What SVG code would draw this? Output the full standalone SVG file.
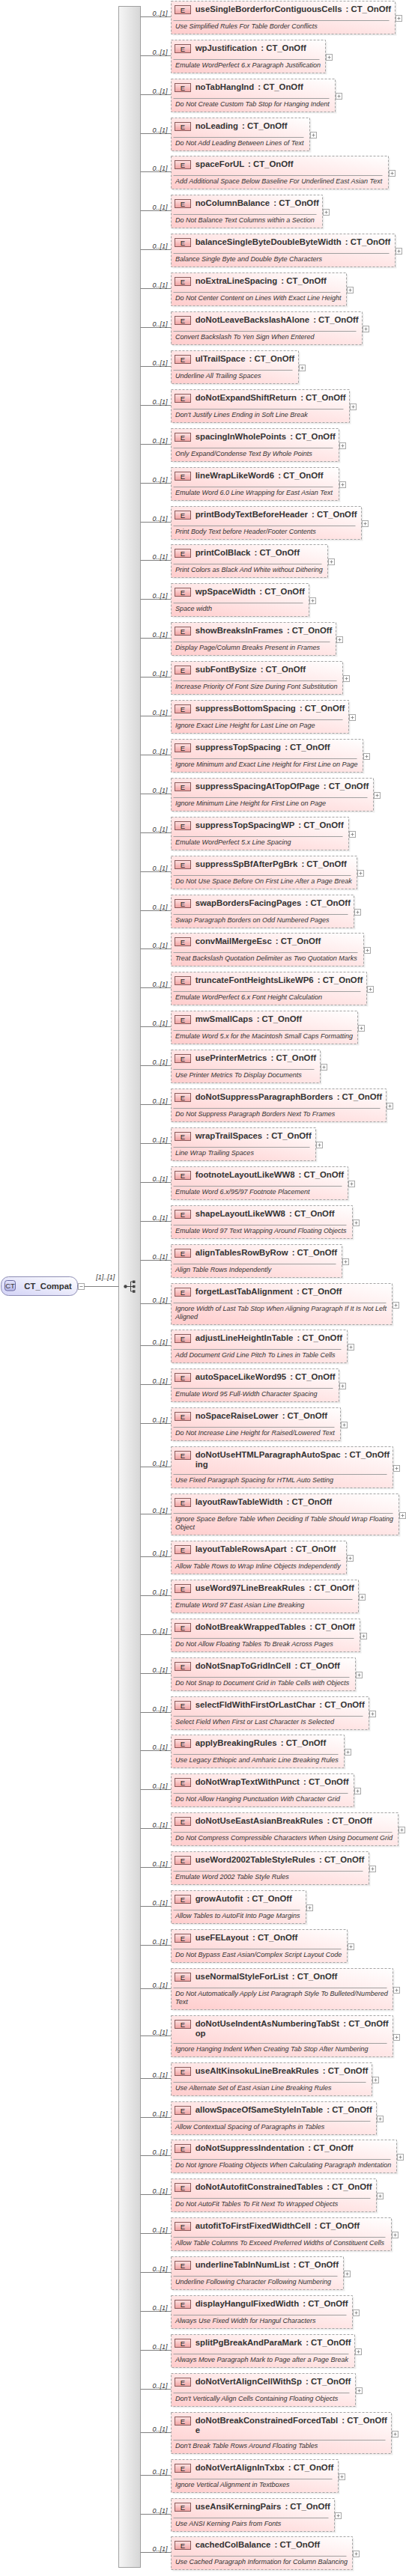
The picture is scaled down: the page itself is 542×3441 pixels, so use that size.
<svg xmlns="http://www.w3.org/2000/svg" xmlns:xlink="http://www.w3.org/1999/xlink" width="542" height="3441" viewBox="0 0 542 3441">
<style>
.box{fill:url(#gb);stroke:#a4a4a4;stroke-dasharray:3,2}
.sh{fill:#000;fill-opacity:.07}
.bd{fill:url(#ge);stroke:#8a5a5a}
.e{font:9.5px 'Liberation Sans',Arial,sans-serif;fill:#222;text-anchor:middle}
.t{font:bold 11.33px 'Liberation Sans',Arial,sans-serif;fill:#333}
.d{font:italic 9px 'Liberation Sans',Arial,sans-serif;fill:#333}
.m{font:italic 9px 'Liberation Sans',Arial,sans-serif;fill:#333}
.sep{stroke:#a0a0a0}
.cn{stroke:#808080;fill:none}
</style>
<defs>
<linearGradient id="gb" x1="0" y1="1" x2="1" y2="0"><stop offset="0" stop-color="#ffcccc"/><stop offset="1" stop-color="#ffffff"/></linearGradient>
<linearGradient id="ge" x1="0" y1="0" x2="0" y2="1"><stop offset="0" stop-color="#ffe2e2"/><stop offset="1" stop-color="#f0a2a2"/></linearGradient>
<linearGradient id="gct" x1="0" y1="1" x2="1" y2="0"><stop offset="0" stop-color="#d2d2f6"/><stop offset="1" stop-color="#ffffff"/></linearGradient>
<linearGradient id="gctb" x1="0" y1="0" x2="0" y2="1"><stop offset="0" stop-color="#e4e4fb"/><stop offset="1" stop-color="#b8b8e8"/></linearGradient>
<linearGradient id="gbar" x1="0" y1="0" x2="1" y2="0"><stop offset="0" stop-color="#f6f6f6"/><stop offset="1" stop-color="#d6d6d6"/></linearGradient>
<g id="plus"><rect x="0.5" y="19.5" width="8" height="8" fill="#fff" stroke="#a8a8a8"/><path d="M2.5 23.5h4M4.5 21.5v4" stroke="#909090"/></g>
</defs>
<rect width="542" height="3441" fill="#fff"/>

<g id="n-CT_Compat">
<rect x="1.5" y="1705.5" width="102" height="25" rx="10" fill="url(#gct)" stroke="#8c8cb4"/>
<rect x="6.5" y="1710.5" width="14" height="13.5" rx="3" fill="url(#gctb)" stroke="#6a6aa0"/>
<text x="13.5" y="1721" style="font:9.5px 'Liberation Sans',Arial,sans-serif;fill:#333;text-anchor:middle">CT</text>
<text class="t" x="32.3" y="1721.5">CT_Compat</text>
<rect x="104.5" y="1714.5" width="8" height="8" fill="#fff" stroke="#a8a8a8"/>
<path d="M106.5 1718.5h4" stroke="#909090"/>
</g>

<g id="sequence">
<rect x="158.5" y="8.5" width="29" height="3421" fill="url(#gbar)" stroke="#a0a0a0"/>
<circle cx="167.5" cy="1718.5" r="2.2" fill="#444"/>
<path d="M167.5 1718.5h7M174.5 1712v13M174.5 1712h3M174.5 1718.5h3M174.5 1725h3" stroke="#444" fill="none"/>
<rect x="177" y="1710.5" width="3.5" height="3.5" fill="#444"/>
<rect x="177" y="1716.8" width="3.5" height="3.5" fill="#444"/>
<rect x="177" y="1723.3" width="3.5" height="3.5" fill="#444"/>
</g>

<g id="connectors">
<line class="cn" x1="112.5" y1="1718.5" x2="158.5" y2="1718.5"/>
<text class="m" x="128.3" y="1708.5">[1]..[1]</text>
<line class="cn" x1="187.5" y1="22.5" x2="228.5" y2="22.5"/><text class="m" x="203.5" y="20.5">0..[1]</text>
<line class="cn" x1="187.5" y1="74.5" x2="228.5" y2="74.5"/><text class="m" x="203.5" y="72.5">0..[1]</text>
<line class="cn" x1="187.5" y1="126.5" x2="228.5" y2="126.5"/><text class="m" x="203.5" y="124.5">0..[1]</text>
<line class="cn" x1="187.5" y1="178.5" x2="228.5" y2="178.5"/><text class="m" x="203.5" y="176.5">0..[1]</text>
<line class="cn" x1="187.5" y1="229.5" x2="228.5" y2="229.5"/><text class="m" x="203.5" y="227.5">0..[1]</text>
<line class="cn" x1="187.5" y1="281.5" x2="228.5" y2="281.5"/><text class="m" x="203.5" y="279.5">0..[1]</text>
<line class="cn" x1="187.5" y1="333.5" x2="228.5" y2="333.5"/><text class="m" x="203.5" y="331.5">0..[1]</text>
<line class="cn" x1="187.5" y1="385.5" x2="228.5" y2="385.5"/><text class="m" x="203.5" y="383.5">0..[1]</text>
<line class="cn" x1="187.5" y1="437.5" x2="228.5" y2="437.5"/><text class="m" x="203.5" y="435.5">0..[1]</text>
<line class="cn" x1="187.5" y1="489.5" x2="228.5" y2="489.5"/><text class="m" x="203.5" y="487.5">0..[1]</text>
<line class="cn" x1="187.5" y1="541.5" x2="228.5" y2="541.5"/><text class="m" x="203.5" y="539.5">0..[1]</text>
<line class="cn" x1="187.5" y1="593.5" x2="228.5" y2="593.5"/><text class="m" x="203.5" y="591.5">0..[1]</text>
<line class="cn" x1="187.5" y1="645.5" x2="228.5" y2="645.5"/><text class="m" x="203.5" y="643.5">0..[1]</text>
<line class="cn" x1="187.5" y1="697.5" x2="228.5" y2="697.5"/><text class="m" x="203.5" y="695.5">0..[1]</text>
<line class="cn" x1="187.5" y1="748.5" x2="228.5" y2="748.5"/><text class="m" x="203.5" y="746.5">0..[1]</text>
<line class="cn" x1="187.5" y1="800.5" x2="228.5" y2="800.5"/><text class="m" x="203.5" y="798.5">0..[1]</text>
<line class="cn" x1="187.5" y1="852.5" x2="228.5" y2="852.5"/><text class="m" x="203.5" y="850.5">0..[1]</text>
<line class="cn" x1="187.5" y1="904.5" x2="228.5" y2="904.5"/><text class="m" x="203.5" y="902.5">0..[1]</text>
<line class="cn" x1="187.5" y1="956.5" x2="228.5" y2="956.5"/><text class="m" x="203.5" y="954.5">0..[1]</text>
<line class="cn" x1="187.5" y1="1008.5" x2="228.5" y2="1008.5"/><text class="m" x="203.5" y="1006.5">0..[1]</text>
<line class="cn" x1="187.5" y1="1060.5" x2="228.5" y2="1060.5"/><text class="m" x="203.5" y="1058.5">0..[1]</text>
<line class="cn" x1="187.5" y1="1112.5" x2="228.5" y2="1112.5"/><text class="m" x="203.5" y="1110.5">0..[1]</text>
<line class="cn" x1="187.5" y1="1164.5" x2="228.5" y2="1164.5"/><text class="m" x="203.5" y="1162.5">0..[1]</text>
<line class="cn" x1="187.5" y1="1216.5" x2="228.5" y2="1216.5"/><text class="m" x="203.5" y="1214.5">0..[1]</text>
<line class="cn" x1="187.5" y1="1267.5" x2="228.5" y2="1267.5"/><text class="m" x="203.5" y="1265.5">0..[1]</text>
<line class="cn" x1="187.5" y1="1319.5" x2="228.5" y2="1319.5"/><text class="m" x="203.5" y="1317.5">0..[1]</text>
<line class="cn" x1="187.5" y1="1371.5" x2="228.5" y2="1371.5"/><text class="m" x="203.5" y="1369.5">0..[1]</text>
<line class="cn" x1="187.5" y1="1423.5" x2="228.5" y2="1423.5"/><text class="m" x="203.5" y="1421.5">0..[1]</text>
<line class="cn" x1="187.5" y1="1475.5" x2="228.5" y2="1475.5"/><text class="m" x="203.5" y="1473.5">0..[1]</text>
<line class="cn" x1="187.5" y1="1527.5" x2="228.5" y2="1527.5"/><text class="m" x="203.5" y="1525.5">0..[1]</text>
<line class="cn" x1="187.5" y1="1579.5" x2="228.5" y2="1579.5"/><text class="m" x="203.5" y="1577.5">0..[1]</text>
<line class="cn" x1="187.5" y1="1631.5" x2="228.5" y2="1631.5"/><text class="m" x="203.5" y="1629.5">0..[1]</text>
<line class="cn" x1="187.5" y1="1683.5" x2="228.5" y2="1683.5"/><text class="m" x="203.5" y="1681.5">0..[1]</text>
<line class="cn" x1="187.5" y1="1741.5" x2="228.5" y2="1741.5"/><text class="m" x="203.5" y="1739.5">0..[1]</text>
<line class="cn" x1="187.5" y1="1797.5" x2="228.5" y2="1797.5"/><text class="m" x="203.5" y="1795.5">0..[1]</text>
<line class="cn" x1="187.5" y1="1849.5" x2="228.5" y2="1849.5"/><text class="m" x="203.5" y="1847.5">0..[1]</text>
<line class="cn" x1="187.5" y1="1901.5" x2="228.5" y2="1901.5"/><text class="m" x="203.5" y="1899.5">0..[1]</text>
<line class="cn" x1="187.5" y1="1959.5" x2="228.5" y2="1959.5"/><text class="m" x="203.5" y="1957.5">0..[1]</text>
<line class="cn" x1="187.5" y1="2022.5" x2="228.5" y2="2022.5"/><text class="m" x="203.5" y="2020.5">0..[1]</text>
<line class="cn" x1="187.5" y1="2079.5" x2="228.5" y2="2079.5"/><text class="m" x="203.5" y="2077.5">0..[1]</text>
<line class="cn" x1="187.5" y1="2131.5" x2="228.5" y2="2131.5"/><text class="m" x="203.5" y="2129.5">0..[1]</text>
<line class="cn" x1="187.5" y1="2183.5" x2="228.5" y2="2183.5"/><text class="m" x="203.5" y="2181.5">0..[1]</text>
<line class="cn" x1="187.5" y1="2235.5" x2="228.5" y2="2235.5"/><text class="m" x="203.5" y="2233.5">0..[1]</text>
<line class="cn" x1="187.5" y1="2287.5" x2="228.5" y2="2287.5"/><text class="m" x="203.5" y="2285.5">0..[1]</text>
<line class="cn" x1="187.5" y1="2338.5" x2="228.5" y2="2338.5"/><text class="m" x="203.5" y="2336.5">0..[1]</text>
<line class="cn" x1="187.5" y1="2390.5" x2="228.5" y2="2390.5"/><text class="m" x="203.5" y="2388.5">0..[1]</text>
<line class="cn" x1="187.5" y1="2442.5" x2="228.5" y2="2442.5"/><text class="m" x="203.5" y="2440.5">0..[1]</text>
<line class="cn" x1="187.5" y1="2494.5" x2="228.5" y2="2494.5"/><text class="m" x="203.5" y="2492.5">0..[1]</text>
<line class="cn" x1="187.5" y1="2546.5" x2="228.5" y2="2546.5"/><text class="m" x="203.5" y="2544.5">0..[1]</text>
<line class="cn" x1="187.5" y1="2598.5" x2="228.5" y2="2598.5"/><text class="m" x="203.5" y="2596.5">0..[1]</text>
<line class="cn" x1="187.5" y1="2656.5" x2="228.5" y2="2656.5"/><text class="m" x="203.5" y="2654.5">0..[1]</text>
<line class="cn" x1="187.5" y1="2719.5" x2="228.5" y2="2719.5"/><text class="m" x="203.5" y="2717.5">0..[1]</text>
<line class="cn" x1="187.5" y1="2776.5" x2="228.5" y2="2776.5"/><text class="m" x="203.5" y="2774.5">0..[1]</text>
<line class="cn" x1="187.5" y1="2828.5" x2="228.5" y2="2828.5"/><text class="m" x="203.5" y="2826.5">0..[1]</text>
<line class="cn" x1="187.5" y1="2879.5" x2="228.5" y2="2879.5"/><text class="m" x="203.5" y="2877.5">0..[1]</text>
<line class="cn" x1="187.5" y1="2931.5" x2="228.5" y2="2931.5"/><text class="m" x="203.5" y="2929.5">0..[1]</text>
<line class="cn" x1="187.5" y1="2983.5" x2="228.5" y2="2983.5"/><text class="m" x="203.5" y="2981.5">0..[1]</text>
<line class="cn" x1="187.5" y1="3035.5" x2="228.5" y2="3035.5"/><text class="m" x="203.5" y="3033.5">0..[1]</text>
<line class="cn" x1="187.5" y1="3087.5" x2="228.5" y2="3087.5"/><text class="m" x="203.5" y="3085.5">0..[1]</text>
<line class="cn" x1="187.5" y1="3139.5" x2="228.5" y2="3139.5"/><text class="m" x="203.5" y="3137.5">0..[1]</text>
<line class="cn" x1="187.5" y1="3191.5" x2="228.5" y2="3191.5"/><text class="m" x="203.5" y="3189.5">0..[1]</text>
<line class="cn" x1="187.5" y1="3249.5" x2="228.5" y2="3249.5"/><text class="m" x="203.5" y="3247.5">0..[1]</text>
<line class="cn" x1="187.5" y1="3306.5" x2="228.5" y2="3306.5"/><text class="m" x="203.5" y="3304.5">0..[1]</text>
<line class="cn" x1="187.5" y1="3358.5" x2="228.5" y2="3358.5"/><text class="m" x="203.5" y="3356.5">0..[1]</text>
<line class="cn" x1="187.5" y1="3409.5" x2="228.5" y2="3409.5"/><text class="m" x="203.5" y="3407.5">0..[1]</text>
</g>

<g id="n-useSingleBorderforContiguousCells" transform="translate(0,1)"><rect class="sh" x="230.5" y="2.5" width="299" height="44"/><rect class="box" x="228.5" y="0.5" width="299" height="44"/><rect class="bd" x="233.5" y="6.5" width="21" height="11"/><text class="e" x="244" y="15.5">E</text><text class="t" x="260.7" y="15">useSingleBorderforContiguousCells<tspan dx="2"> : CT_OnOff</tspan></text><line class="sep" x1="231.5" y1="26.5" x2="519.5" y2="26.5"/><text class="d" x="234" y="37">Use Simplified Rules For Table Border Conflicts</text><use href="#plus" x="528"/></g>
<g id="n-wpJustification" transform="translate(0,53)"><rect class="sh" x="230.5" y="2.5" width="206" height="44"/><rect class="box" x="228.5" y="0.5" width="206" height="44"/><rect class="bd" x="233.5" y="6.5" width="21" height="11"/><text class="e" x="244" y="15.5">E</text><text class="t" x="260.7" y="15">wpJustification<tspan dx="2"> : CT_OnOff</tspan></text><line class="sep" x1="231.5" y1="26.5" x2="426.5" y2="26.5"/><text class="d" x="234" y="37">Emulate WordPerfect 6.x Paragraph Justification</text><use href="#plus" x="435"/></g>
<g id="n-noTabHangInd" transform="translate(0,105)"><rect class="sh" x="230.5" y="2.5" width="219" height="44"/><rect class="box" x="228.5" y="0.5" width="219" height="44"/><rect class="bd" x="233.5" y="6.5" width="21" height="11"/><text class="e" x="244" y="15.5">E</text><text class="t" x="260.7" y="15">noTabHangInd<tspan dx="2"> : CT_OnOff</tspan></text><line class="sep" x1="231.5" y1="26.5" x2="439.5" y2="26.5"/><text class="d" x="234" y="37">Do Not Create Custom Tab Stop for Hanging Indent</text><use href="#plus" x="448"/></g>
<g id="n-noLeading" transform="translate(0,157)"><rect class="sh" x="230.5" y="2.5" width="185" height="44"/><rect class="box" x="228.5" y="0.5" width="185" height="44"/><rect class="bd" x="233.5" y="6.5" width="21" height="11"/><text class="e" x="244" y="15.5">E</text><text class="t" x="260.7" y="15">noLeading<tspan dx="2"> : CT_OnOff</tspan></text><line class="sep" x1="231.5" y1="26.5" x2="405.5" y2="26.5"/><text class="d" x="234" y="37">Do Not Add Leading Between Lines of Text</text><use href="#plus" x="414"/></g>
<g id="n-spaceForUL" transform="translate(0,208)"><rect class="sh" x="230.5" y="2.5" width="290" height="44"/><rect class="box" x="228.5" y="0.5" width="290" height="44"/><rect class="bd" x="233.5" y="6.5" width="21" height="11"/><text class="e" x="244" y="15.5">E</text><text class="t" x="260.7" y="15">spaceForUL<tspan dx="2"> : CT_OnOff</tspan></text><line class="sep" x1="231.5" y1="26.5" x2="510.5" y2="26.5"/><text class="d" x="234" y="37">Add Additional Space Below Baseline For Underlined East Asian Text</text><use href="#plus" x="519"/></g>
<g id="n-noColumnBalance" transform="translate(0,260)"><rect class="sh" x="230.5" y="2.5" width="202" height="44"/><rect class="box" x="228.5" y="0.5" width="202" height="44"/><rect class="bd" x="233.5" y="6.5" width="21" height="11"/><text class="e" x="244" y="15.5">E</text><text class="t" x="260.7" y="15">noColumnBalance<tspan dx="2"> : CT_OnOff</tspan></text><line class="sep" x1="231.5" y1="26.5" x2="422.5" y2="26.5"/><text class="d" x="234" y="37">Do Not Balance Text Columns within a Section</text><use href="#plus" x="431"/></g>
<g id="n-balanceSingleByteDoubleByteWidth" transform="translate(0,312)"><rect class="sh" x="230.5" y="2.5" width="299" height="44"/><rect class="box" x="228.5" y="0.5" width="299" height="44"/><rect class="bd" x="233.5" y="6.5" width="21" height="11"/><text class="e" x="244" y="15.5">E</text><text class="t" x="260.7" y="15">balanceSingleByteDoubleByteWidth<tspan dx="2"> : CT_OnOff</tspan></text><line class="sep" x1="231.5" y1="26.5" x2="519.5" y2="26.5"/><text class="d" x="234" y="37">Balance Single Byte and Double Byte Characters</text><use href="#plus" x="528"/></g>
<g id="n-noExtraLineSpacing" transform="translate(0,364)"><rect class="sh" x="230.5" y="2.5" width="234" height="44"/><rect class="box" x="228.5" y="0.5" width="234" height="44"/><rect class="bd" x="233.5" y="6.5" width="21" height="11"/><text class="e" x="244" y="15.5">E</text><text class="t" x="260.7" y="15">noExtraLineSpacing<tspan dx="2"> : CT_OnOff</tspan></text><line class="sep" x1="231.5" y1="26.5" x2="454.5" y2="26.5"/><text class="d" x="234" y="37">Do Not Center Content on Lines With Exact Line Height</text><use href="#plus" x="463"/></g>
<g id="n-doNotLeaveBackslashAlone" transform="translate(0,416)"><rect class="sh" x="230.5" y="2.5" width="255" height="44"/><rect class="box" x="228.5" y="0.5" width="255" height="44"/><rect class="bd" x="233.5" y="6.5" width="21" height="11"/><text class="e" x="244" y="15.5">E</text><text class="t" x="260.7" y="15">doNotLeaveBackslashAlone<tspan dx="2"> : CT_OnOff</tspan></text><line class="sep" x1="231.5" y1="26.5" x2="475.5" y2="26.5"/><text class="d" x="234" y="37">Convert Backslash To Yen Sign When Entered</text><use href="#plus" x="484"/></g>
<g id="n-ulTrailSpace" transform="translate(0,468)"><rect class="sh" x="230.5" y="2.5" width="170" height="44"/><rect class="box" x="228.5" y="0.5" width="170" height="44"/><rect class="bd" x="233.5" y="6.5" width="21" height="11"/><text class="e" x="244" y="15.5">E</text><text class="t" x="260.7" y="15">ulTrailSpace<tspan dx="2"> : CT_OnOff</tspan></text><line class="sep" x1="231.5" y1="26.5" x2="390.5" y2="26.5"/><text class="d" x="234" y="37">Underline All Trailing Spaces</text><use href="#plus" x="399"/></g>
<g id="n-doNotExpandShiftReturn" transform="translate(0,520)"><rect class="sh" x="230.5" y="2.5" width="238" height="44"/><rect class="box" x="228.5" y="0.5" width="238" height="44"/><rect class="bd" x="233.5" y="6.5" width="21" height="11"/><text class="e" x="244" y="15.5">E</text><text class="t" x="260.7" y="15">doNotExpandShiftReturn<tspan dx="2"> : CT_OnOff</tspan></text><line class="sep" x1="231.5" y1="26.5" x2="458.5" y2="26.5"/><text class="d" x="234" y="37">Don't Justify Lines Ending in Soft Line Break</text><use href="#plus" x="467"/></g>
<g id="n-spacingInWholePoints" transform="translate(0,572)"><rect class="sh" x="230.5" y="2.5" width="224" height="44"/><rect class="box" x="228.5" y="0.5" width="224" height="44"/><rect class="bd" x="233.5" y="6.5" width="21" height="11"/><text class="e" x="244" y="15.5">E</text><text class="t" x="260.7" y="15">spacingInWholePoints<tspan dx="2"> : CT_OnOff</tspan></text><line class="sep" x1="231.5" y1="26.5" x2="444.5" y2="26.5"/><text class="d" x="234" y="37">Only Expand/Condense Text By Whole Points</text><use href="#plus" x="453"/></g>
<g id="n-lineWrapLikeWord6" transform="translate(0,624)"><rect class="sh" x="230.5" y="2.5" width="224" height="44"/><rect class="box" x="228.5" y="0.5" width="224" height="44"/><rect class="bd" x="233.5" y="6.5" width="21" height="11"/><text class="e" x="244" y="15.5">E</text><text class="t" x="260.7" y="15">lineWrapLikeWord6<tspan dx="2"> : CT_OnOff</tspan></text><line class="sep" x1="231.5" y1="26.5" x2="444.5" y2="26.5"/><text class="d" x="234" y="37">Emulate Word 6.0 Line Wrapping for East Asian Text</text><use href="#plus" x="453"/></g>
<g id="n-printBodyTextBeforeHeader" transform="translate(0,676)"><rect class="sh" x="230.5" y="2.5" width="254" height="44"/><rect class="box" x="228.5" y="0.5" width="254" height="44"/><rect class="bd" x="233.5" y="6.5" width="21" height="11"/><text class="e" x="244" y="15.5">E</text><text class="t" x="260.7" y="15">printBodyTextBeforeHeader<tspan dx="2"> : CT_OnOff</tspan></text><line class="sep" x1="231.5" y1="26.5" x2="474.5" y2="26.5"/><text class="d" x="234" y="37">Print Body Text before Header/Footer Contents</text><use href="#plus" x="483"/></g>
<g id="n-printColBlack" transform="translate(0,727)"><rect class="sh" x="230.5" y="2.5" width="209" height="44"/><rect class="box" x="228.5" y="0.5" width="209" height="44"/><rect class="bd" x="233.5" y="6.5" width="21" height="11"/><text class="e" x="244" y="15.5">E</text><text class="t" x="260.7" y="15">printColBlack<tspan dx="2"> : CT_OnOff</tspan></text><line class="sep" x1="231.5" y1="26.5" x2="429.5" y2="26.5"/><text class="d" x="234" y="37">Print Colors as Black And White without Dithering</text><use href="#plus" x="438"/></g>
<g id="n-wpSpaceWidth" transform="translate(0,779)"><rect class="sh" x="230.5" y="2.5" width="184" height="44"/><rect class="box" x="228.5" y="0.5" width="184" height="44"/><rect class="bd" x="233.5" y="6.5" width="21" height="11"/><text class="e" x="244" y="15.5">E</text><text class="t" x="260.7" y="15">wpSpaceWidth<tspan dx="2"> : CT_OnOff</tspan></text><line class="sep" x1="231.5" y1="26.5" x2="404.5" y2="26.5"/><text class="d" x="234" y="37">Space width</text><use href="#plus" x="413"/></g>
<g id="n-showBreaksInFrames" transform="translate(0,831)"><rect class="sh" x="230.5" y="2.5" width="220" height="44"/><rect class="box" x="228.5" y="0.5" width="220" height="44"/><rect class="bd" x="233.5" y="6.5" width="21" height="11"/><text class="e" x="244" y="15.5">E</text><text class="t" x="260.7" y="15">showBreaksInFrames<tspan dx="2"> : CT_OnOff</tspan></text><line class="sep" x1="231.5" y1="26.5" x2="440.5" y2="26.5"/><text class="d" x="234" y="37">Display Page/Column Breaks Present in Frames</text><use href="#plus" x="449"/></g>
<g id="n-subFontBySize" transform="translate(0,883)"><rect class="sh" x="230.5" y="2.5" width="229" height="44"/><rect class="box" x="228.5" y="0.5" width="229" height="44"/><rect class="bd" x="233.5" y="6.5" width="21" height="11"/><text class="e" x="244" y="15.5">E</text><text class="t" x="260.7" y="15">subFontBySize<tspan dx="2"> : CT_OnOff</tspan></text><line class="sep" x1="231.5" y1="26.5" x2="449.5" y2="26.5"/><text class="d" x="234" y="37">Increase Priority Of Font Size During Font Substitution</text><use href="#plus" x="458"/></g>
<g id="n-suppressBottomSpacing" transform="translate(0,935)"><rect class="sh" x="230.5" y="2.5" width="237" height="44"/><rect class="box" x="228.5" y="0.5" width="237" height="44"/><rect class="bd" x="233.5" y="6.5" width="21" height="11"/><text class="e" x="244" y="15.5">E</text><text class="t" x="260.7" y="15">suppressBottomSpacing<tspan dx="2"> : CT_OnOff</tspan></text><line class="sep" x1="231.5" y1="26.5" x2="457.5" y2="26.5"/><text class="d" x="234" y="37">Ignore Exact Line Height for Last Line on Page</text><use href="#plus" x="466"/></g>
<g id="n-suppressTopSpacing" transform="translate(0,987)"><rect class="sh" x="230.5" y="2.5" width="256" height="44"/><rect class="box" x="228.5" y="0.5" width="256" height="44"/><rect class="bd" x="233.5" y="6.5" width="21" height="11"/><text class="e" x="244" y="15.5">E</text><text class="t" x="260.7" y="15">suppressTopSpacing<tspan dx="2"> : CT_OnOff</tspan></text><line class="sep" x1="231.5" y1="26.5" x2="476.5" y2="26.5"/><text class="d" x="234" y="37">Ignore Minimum and Exact Line Height for First Line on Page</text><use href="#plus" x="485"/></g>
<g id="n-suppressSpacingAtTopOfPage" transform="translate(0,1039)"><rect class="sh" x="230.5" y="2.5" width="270" height="44"/><rect class="box" x="228.5" y="0.5" width="270" height="44"/><rect class="bd" x="233.5" y="6.5" width="21" height="11"/><text class="e" x="244" y="15.5">E</text><text class="t" x="260.7" y="15">suppressSpacingAtTopOfPage<tspan dx="2"> : CT_OnOff</tspan></text><line class="sep" x1="231.5" y1="26.5" x2="490.5" y2="26.5"/><text class="d" x="234" y="37">Ignore Minimum Line Height for First Line on Page</text><use href="#plus" x="499"/></g>
<g id="n-suppressTopSpacingWP" transform="translate(0,1091)"><rect class="sh" x="230.5" y="2.5" width="237" height="44"/><rect class="box" x="228.5" y="0.5" width="237" height="44"/><rect class="bd" x="233.5" y="6.5" width="21" height="11"/><text class="e" x="244" y="15.5">E</text><text class="t" x="260.7" y="15">suppressTopSpacingWP<tspan dx="2"> : CT_OnOff</tspan></text><line class="sep" x1="231.5" y1="26.5" x2="457.5" y2="26.5"/><text class="d" x="234" y="37">Emulate WordPerfect 5.x Line Spacing</text><use href="#plus" x="466"/></g>
<g id="n-suppressSpBfAfterPgBrk" transform="translate(0,1143)"><rect class="sh" x="230.5" y="2.5" width="248" height="44"/><rect class="box" x="228.5" y="0.5" width="248" height="44"/><rect class="bd" x="233.5" y="6.5" width="21" height="11"/><text class="e" x="244" y="15.5">E</text><text class="t" x="260.7" y="15">suppressSpBfAfterPgBrk<tspan dx="2"> : CT_OnOff</tspan></text><line class="sep" x1="231.5" y1="26.5" x2="468.5" y2="26.5"/><text class="d" x="234" y="37">Do Not Use Space Before On First Line After a Page Break</text><use href="#plus" x="477"/></g>
<g id="n-swapBordersFacingPages" transform="translate(0,1195)"><rect class="sh" x="230.5" y="2.5" width="244" height="44"/><rect class="box" x="228.5" y="0.5" width="244" height="44"/><rect class="bd" x="233.5" y="6.5" width="21" height="11"/><text class="e" x="244" y="15.5">E</text><text class="t" x="260.7" y="15">swapBordersFacingPages<tspan dx="2"> : CT_OnOff</tspan></text><line class="sep" x1="231.5" y1="26.5" x2="464.5" y2="26.5"/><text class="d" x="234" y="37">Swap Paragraph Borders on Odd Numbered Pages</text><use href="#plus" x="473"/></g>
<g id="n-convMailMergeEsc" transform="translate(0,1246)"><rect class="sh" x="230.5" y="2.5" width="257" height="44"/><rect class="box" x="228.5" y="0.5" width="257" height="44"/><rect class="bd" x="233.5" y="6.5" width="21" height="11"/><text class="e" x="244" y="15.5">E</text><text class="t" x="260.7" y="15">convMailMergeEsc<tspan dx="2"> : CT_OnOff</tspan></text><line class="sep" x1="231.5" y1="26.5" x2="477.5" y2="26.5"/><text class="d" x="234" y="37">Treat Backslash Quotation Delimiter as Two Quotation Marks</text><use href="#plus" x="486"/></g>
<g id="n-truncateFontHeightsLikeWP6" transform="translate(0,1298)"><rect class="sh" x="230.5" y="2.5" width="261" height="44"/><rect class="box" x="228.5" y="0.5" width="261" height="44"/><rect class="bd" x="233.5" y="6.5" width="21" height="11"/><text class="e" x="244" y="15.5">E</text><text class="t" x="260.7" y="15">truncateFontHeightsLikeWP6<tspan dx="2"> : CT_OnOff</tspan></text><line class="sep" x1="231.5" y1="26.5" x2="481.5" y2="26.5"/><text class="d" x="234" y="37">Emulate WordPerfect 6.x Font Height Calculation</text><use href="#plus" x="490"/></g>
<g id="n-mwSmallCaps" transform="translate(0,1350)"><rect class="sh" x="230.5" y="2.5" width="249" height="44"/><rect class="box" x="228.5" y="0.5" width="249" height="44"/><rect class="bd" x="233.5" y="6.5" width="21" height="11"/><text class="e" x="244" y="15.5">E</text><text class="t" x="260.7" y="15">mwSmallCaps<tspan dx="2"> : CT_OnOff</tspan></text><line class="sep" x1="231.5" y1="26.5" x2="469.5" y2="26.5"/><text class="d" x="234" y="37">Emulate Word 5.x for the Macintosh Small Caps Formatting</text><use href="#plus" x="478"/></g>
<g id="n-usePrinterMetrics" transform="translate(0,1402)"><rect class="sh" x="230.5" y="2.5" width="199" height="44"/><rect class="box" x="228.5" y="0.5" width="199" height="44"/><rect class="bd" x="233.5" y="6.5" width="21" height="11"/><text class="e" x="244" y="15.5">E</text><text class="t" x="260.7" y="15">usePrinterMetrics<tspan dx="2"> : CT_OnOff</tspan></text><line class="sep" x1="231.5" y1="26.5" x2="419.5" y2="26.5"/><text class="d" x="234" y="37">Use Printer Metrics To Display Documents</text><use href="#plus" x="428"/></g>
<g id="n-doNotSuppressParagraphBorders" transform="translate(0,1454)"><rect class="sh" x="230.5" y="2.5" width="287" height="44"/><rect class="box" x="228.5" y="0.5" width="287" height="44"/><rect class="bd" x="233.5" y="6.5" width="21" height="11"/><text class="e" x="244" y="15.5">E</text><text class="t" x="260.7" y="15">doNotSuppressParagraphBorders<tspan dx="2"> : CT_OnOff</tspan></text><line class="sep" x1="231.5" y1="26.5" x2="507.5" y2="26.5"/><text class="d" x="234" y="37">Do Not Suppress Paragraph Borders Next To Frames</text><use href="#plus" x="516"/></g>
<g id="n-wrapTrailSpaces" transform="translate(0,1506)"><rect class="sh" x="230.5" y="2.5" width="193" height="44"/><rect class="box" x="228.5" y="0.5" width="193" height="44"/><rect class="bd" x="233.5" y="6.5" width="21" height="11"/><text class="e" x="244" y="15.5">E</text><text class="t" x="260.7" y="15">wrapTrailSpaces<tspan dx="2"> : CT_OnOff</tspan></text><line class="sep" x1="231.5" y1="26.5" x2="413.5" y2="26.5"/><text class="d" x="234" y="37">Line Wrap Trailing Spaces</text><use href="#plus" x="422"/></g>
<g id="n-footnoteLayoutLikeWW8" transform="translate(0,1558)"><rect class="sh" x="230.5" y="2.5" width="236" height="44"/><rect class="box" x="228.5" y="0.5" width="236" height="44"/><rect class="bd" x="233.5" y="6.5" width="21" height="11"/><text class="e" x="244" y="15.5">E</text><text class="t" x="260.7" y="15">footnoteLayoutLikeWW8<tspan dx="2"> : CT_OnOff</tspan></text><line class="sep" x1="231.5" y1="26.5" x2="456.5" y2="26.5"/><text class="d" x="234" y="37">Emulate Word 6.x/95/97 Footnote Placement</text><use href="#plus" x="465"/></g>
<g id="n-shapeLayoutLikeWW8" transform="translate(0,1610)"><rect class="sh" x="230.5" y="2.5" width="242" height="44"/><rect class="box" x="228.5" y="0.5" width="242" height="44"/><rect class="bd" x="233.5" y="6.5" width="21" height="11"/><text class="e" x="244" y="15.5">E</text><text class="t" x="260.7" y="15">shapeLayoutLikeWW8<tspan dx="2"> : CT_OnOff</tspan></text><line class="sep" x1="231.5" y1="26.5" x2="462.5" y2="26.5"/><text class="d" x="234" y="37">Emulate Word 97 Text Wrapping Around Floating Objects</text><use href="#plus" x="471"/></g>
<g id="n-alignTablesRowByRow" transform="translate(0,1662)"><rect class="sh" x="230.5" y="2.5" width="228" height="44"/><rect class="box" x="228.5" y="0.5" width="228" height="44"/><rect class="bd" x="233.5" y="6.5" width="21" height="11"/><text class="e" x="244" y="15.5">E</text><text class="t" x="260.7" y="15">alignTablesRowByRow<tspan dx="2"> : CT_OnOff</tspan></text><line class="sep" x1="231.5" y1="26.5" x2="448.5" y2="26.5"/><text class="d" x="234" y="37">Align Table Rows Independently</text><use href="#plus" x="457"/></g>
<g id="n-forgetLastTabAlignment" transform="translate(0,1714)"><rect class="sh" x="230.5" y="2.5" width="295" height="55"/><rect class="box" x="228.5" y="0.5" width="295" height="55"/><rect class="bd" x="233.5" y="6.5" width="21" height="11"/><text class="e" x="244" y="15.5">E</text><text class="t" x="260.7" y="15">forgetLastTabAlignment<tspan dx="2"> : CT_OnOff</tspan></text><line class="sep" x1="231.5" y1="26.5" x2="515.5" y2="26.5"/><text class="d" x="234" y="37">Ignore Width of Last Tab Stop When Aligning Paragraph If It Is Not Left</text><text class="d" x="234" y="48">Aligned</text><use href="#plus" x="524" y="6"/></g>
<g id="n-adjustLineHeightInTable" transform="translate(0,1776)"><rect class="sh" x="230.5" y="2.5" width="235" height="44"/><rect class="box" x="228.5" y="0.5" width="235" height="44"/><rect class="bd" x="233.5" y="6.5" width="21" height="11"/><text class="e" x="244" y="15.5">E</text><text class="t" x="260.7" y="15">adjustLineHeightInTable<tspan dx="2"> : CT_OnOff</tspan></text><line class="sep" x1="231.5" y1="26.5" x2="455.5" y2="26.5"/><text class="d" x="234" y="37">Add Document Grid Line Pitch To Lines in Table Cells</text><use href="#plus" x="464"/></g>
<g id="n-autoSpaceLikeWord95" transform="translate(0,1828)"><rect class="sh" x="230.5" y="2.5" width="224" height="44"/><rect class="box" x="228.5" y="0.5" width="224" height="44"/><rect class="bd" x="233.5" y="6.5" width="21" height="11"/><text class="e" x="244" y="15.5">E</text><text class="t" x="260.7" y="15">autoSpaceLikeWord95<tspan dx="2"> : CT_OnOff</tspan></text><line class="sep" x1="231.5" y1="26.5" x2="444.5" y2="26.5"/><text class="d" x="234" y="37">Emulate Word 95 Full-Width Character Spacing</text><use href="#plus" x="453"/></g>
<g id="n-noSpaceRaiseLower" transform="translate(0,1880)"><rect class="sh" x="230.5" y="2.5" width="226" height="44"/><rect class="box" x="228.5" y="0.5" width="226" height="44"/><rect class="bd" x="233.5" y="6.5" width="21" height="11"/><text class="e" x="244" y="15.5">E</text><text class="t" x="260.7" y="15">noSpaceRaiseLower<tspan dx="2"> : CT_OnOff</tspan></text><line class="sep" x1="231.5" y1="26.5" x2="446.5" y2="26.5"/><text class="d" x="234" y="37">Do Not Increase Line Height for Raised/Lowered Text</text><use href="#plus" x="455"/></g>
<g id="n-doNotUseHTMLParagraphAutoSpacing" transform="translate(0,1932)"><rect class="sh" x="230.5" y="2.5" width="296" height="55"/><rect class="box" x="228.5" y="0.5" width="296" height="55"/><rect class="bd" x="233.5" y="6.5" width="21" height="11"/><text class="e" x="244" y="15.5">E</text><text class="t" x="260.7" y="15">doNotUseHTMLParagraphAutoSpac<tspan dx="2"> : CT_OnOff</tspan></text><text class="t" x="260.7" y="27.5">ing</text><line class="sep" x1="231.5" y1="37.5" x2="516.5" y2="37.5"/><text class="d" x="234" y="48">Use Fixed Paragraph Spacing for HTML Auto Setting</text><use href="#plus" x="525" y="6"/></g>
<g id="n-layoutRawTableWidth" transform="translate(0,1995)"><rect class="sh" x="230.5" y="2.5" width="304" height="55"/><rect class="box" x="228.5" y="0.5" width="304" height="55"/><rect class="bd" x="233.5" y="6.5" width="21" height="11"/><text class="e" x="244" y="15.5">E</text><text class="t" x="260.7" y="15">layoutRawTableWidth<tspan dx="2"> : CT_OnOff</tspan></text><line class="sep" x1="231.5" y1="26.5" x2="524.5" y2="26.5"/><text class="d" x="234" y="37">Ignore Space Before Table When Deciding If Table Should Wrap Floating</text><text class="d" x="234" y="48">Object</text><use href="#plus" x="533" y="6"/></g>
<g id="n-layoutTableRowsApart" transform="translate(0,2058)"><rect class="sh" x="230.5" y="2.5" width="234" height="44"/><rect class="box" x="228.5" y="0.5" width="234" height="44"/><rect class="bd" x="233.5" y="6.5" width="21" height="11"/><text class="e" x="244" y="15.5">E</text><text class="t" x="260.7" y="15">layoutTableRowsApart<tspan dx="2"> : CT_OnOff</tspan></text><line class="sep" x1="231.5" y1="26.5" x2="454.5" y2="26.5"/><text class="d" x="234" y="37">Allow Table Rows to Wrap Inline Objects Independently</text><use href="#plus" x="463"/></g>
<g id="n-useWord97LineBreakRules" transform="translate(0,2110)"><rect class="sh" x="230.5" y="2.5" width="250" height="44"/><rect class="box" x="228.5" y="0.5" width="250" height="44"/><rect class="bd" x="233.5" y="6.5" width="21" height="11"/><text class="e" x="244" y="15.5">E</text><text class="t" x="260.7" y="15">useWord97LineBreakRules<tspan dx="2"> : CT_OnOff</tspan></text><line class="sep" x1="231.5" y1="26.5" x2="470.5" y2="26.5"/><text class="d" x="234" y="37">Emulate Word 97 East Asian Line Breaking</text><use href="#plus" x="479"/></g>
<g id="n-doNotBreakWrappedTables" transform="translate(0,2162)"><rect class="sh" x="230.5" y="2.5" width="252" height="44"/><rect class="box" x="228.5" y="0.5" width="252" height="44"/><rect class="bd" x="233.5" y="6.5" width="21" height="11"/><text class="e" x="244" y="15.5">E</text><text class="t" x="260.7" y="15">doNotBreakWrappedTables<tspan dx="2"> : CT_OnOff</tspan></text><line class="sep" x1="231.5" y1="26.5" x2="472.5" y2="26.5"/><text class="d" x="234" y="37">Do Not Allow Floating Tables To Break Across Pages</text><use href="#plus" x="481"/></g>
<g id="n-doNotSnapToGridInCell" transform="translate(0,2214)"><rect class="sh" x="230.5" y="2.5" width="246" height="44"/><rect class="box" x="228.5" y="0.5" width="246" height="44"/><rect class="bd" x="233.5" y="6.5" width="21" height="11"/><text class="e" x="244" y="15.5">E</text><text class="t" x="260.7" y="15">doNotSnapToGridInCell<tspan dx="2"> : CT_OnOff</tspan></text><line class="sep" x1="231.5" y1="26.5" x2="466.5" y2="26.5"/><text class="d" x="234" y="37">Do Not Snap to Document Grid in Table Cells with Objects</text><use href="#plus" x="475"/></g>
<g id="n-selectFldWithFirstOrLastChar" transform="translate(0,2266)"><rect class="sh" x="230.5" y="2.5" width="264" height="44"/><rect class="box" x="228.5" y="0.5" width="264" height="44"/><rect class="bd" x="233.5" y="6.5" width="21" height="11"/><text class="e" x="244" y="15.5">E</text><text class="t" x="260.7" y="15">selectFldWithFirstOrLastChar<tspan dx="2"> : CT_OnOff</tspan></text><line class="sep" x1="231.5" y1="26.5" x2="484.5" y2="26.5"/><text class="d" x="234" y="37">Select Field When First or Last Character Is Selected</text><use href="#plus" x="493"/></g>
<g id="n-applyBreakingRules" transform="translate(0,2317)"><rect class="sh" x="230.5" y="2.5" width="231" height="44"/><rect class="box" x="228.5" y="0.5" width="231" height="44"/><rect class="bd" x="233.5" y="6.5" width="21" height="11"/><text class="e" x="244" y="15.5">E</text><text class="t" x="260.7" y="15">applyBreakingRules<tspan dx="2"> : CT_OnOff</tspan></text><line class="sep" x1="231.5" y1="26.5" x2="451.5" y2="26.5"/><text class="d" x="234" y="37">Use Legacy Ethiopic and Amharic Line Breaking Rules</text><use href="#plus" x="460"/></g>
<g id="n-doNotWrapTextWithPunct" transform="translate(0,2369)"><rect class="sh" x="230.5" y="2.5" width="244" height="44"/><rect class="box" x="228.5" y="0.5" width="244" height="44"/><rect class="bd" x="233.5" y="6.5" width="21" height="11"/><text class="e" x="244" y="15.5">E</text><text class="t" x="260.7" y="15">doNotWrapTextWithPunct<tspan dx="2"> : CT_OnOff</tspan></text><line class="sep" x1="231.5" y1="26.5" x2="464.5" y2="26.5"/><text class="d" x="234" y="37">Do Not Allow Hanging Punctuation With Character Grid</text><use href="#plus" x="473"/></g>
<g id="n-doNotUseEastAsianBreakRules" transform="translate(0,2421)"><rect class="sh" x="230.5" y="2.5" width="303" height="44"/><rect class="box" x="228.5" y="0.5" width="303" height="44"/><rect class="bd" x="233.5" y="6.5" width="21" height="11"/><text class="e" x="244" y="15.5">E</text><text class="t" x="260.7" y="15">doNotUseEastAsianBreakRules<tspan dx="2"> : CT_OnOff</tspan></text><line class="sep" x1="231.5" y1="26.5" x2="523.5" y2="26.5"/><text class="d" x="234" y="37">Do Not Compress Compressible Characters When Using Document Grid</text><use href="#plus" x="532"/></g>
<g id="n-useWord2002TableStyleRules" transform="translate(0,2473)"><rect class="sh" x="230.5" y="2.5" width="264" height="44"/><rect class="box" x="228.5" y="0.5" width="264" height="44"/><rect class="bd" x="233.5" y="6.5" width="21" height="11"/><text class="e" x="244" y="15.5">E</text><text class="t" x="260.7" y="15">useWord2002TableStyleRules<tspan dx="2"> : CT_OnOff</tspan></text><line class="sep" x1="231.5" y1="26.5" x2="484.5" y2="26.5"/><text class="d" x="234" y="37">Emulate Word 2002 Table Style Rules</text><use href="#plus" x="493"/></g>
<g id="n-growAutofit" transform="translate(0,2525)"><rect class="sh" x="230.5" y="2.5" width="180" height="44"/><rect class="box" x="228.5" y="0.5" width="180" height="44"/><rect class="bd" x="233.5" y="6.5" width="21" height="11"/><text class="e" x="244" y="15.5">E</text><text class="t" x="260.7" y="15">growAutofit<tspan dx="2"> : CT_OnOff</tspan></text><line class="sep" x1="231.5" y1="26.5" x2="400.5" y2="26.5"/><text class="d" x="234" y="37">Allow Tables to AutoFit Into Page Margins</text><use href="#plus" x="409"/></g>
<g id="n-useFELayout" transform="translate(0,2577)"><rect class="sh" x="230.5" y="2.5" width="235" height="44"/><rect class="box" x="228.5" y="0.5" width="235" height="44"/><rect class="bd" x="233.5" y="6.5" width="21" height="11"/><text class="e" x="244" y="15.5">E</text><text class="t" x="260.7" y="15">useFELayout<tspan dx="2"> : CT_OnOff</tspan></text><line class="sep" x1="231.5" y1="26.5" x2="455.5" y2="26.5"/><text class="d" x="234" y="37">Do Not Bypass East Asian/Complex Script Layout Code</text><use href="#plus" x="464"/></g>
<g id="n-useNormalStyleForList" transform="translate(0,2629)"><rect class="sh" x="230.5" y="2.5" width="296" height="55"/><rect class="box" x="228.5" y="0.5" width="296" height="55"/><rect class="bd" x="233.5" y="6.5" width="21" height="11"/><text class="e" x="244" y="15.5">E</text><text class="t" x="260.7" y="15">useNormalStyleForList<tspan dx="2"> : CT_OnOff</tspan></text><line class="sep" x1="231.5" y1="26.5" x2="516.5" y2="26.5"/><text class="d" x="234" y="37">Do Not Automatically Apply List Paragraph Style To Bulleted/Numbered</text><text class="d" x="234" y="48">Text</text><use href="#plus" x="525" y="6"/></g>
<g id="n-doNotUseIndentAsNumberingTabStop" transform="translate(0,2692)"><rect class="sh" x="230.5" y="2.5" width="296" height="55"/><rect class="box" x="228.5" y="0.5" width="296" height="55"/><rect class="bd" x="233.5" y="6.5" width="21" height="11"/><text class="e" x="244" y="15.5">E</text><text class="t" x="260.7" y="15">doNotUseIndentAsNumberingTabSt<tspan dx="2"> : CT_OnOff</tspan></text><text class="t" x="260.7" y="27.5">op</text><line class="sep" x1="231.5" y1="37.5" x2="516.5" y2="37.5"/><text class="d" x="234" y="48">Ignore Hanging Indent When Creating Tab Stop After Numbering</text><use href="#plus" x="525" y="6"/></g>
<g id="n-useAltKinsokuLineBreakRules" transform="translate(0,2755)"><rect class="sh" x="230.5" y="2.5" width="268" height="44"/><rect class="box" x="228.5" y="0.5" width="268" height="44"/><rect class="bd" x="233.5" y="6.5" width="21" height="11"/><text class="e" x="244" y="15.5">E</text><text class="t" x="260.7" y="15">useAltKinsokuLineBreakRules<tspan dx="2"> : CT_OnOff</tspan></text><line class="sep" x1="231.5" y1="26.5" x2="488.5" y2="26.5"/><text class="d" x="234" y="37">Use Alternate Set of East Asian Line Breaking Rules</text><use href="#plus" x="497"/></g>
<g id="n-allowSpaceOfSameStyleInTable" transform="translate(0,2807)"><rect class="sh" x="230.5" y="2.5" width="274" height="44"/><rect class="box" x="228.5" y="0.5" width="274" height="44"/><rect class="bd" x="233.5" y="6.5" width="21" height="11"/><text class="e" x="244" y="15.5">E</text><text class="t" x="260.7" y="15">allowSpaceOfSameStyleInTable<tspan dx="2"> : CT_OnOff</tspan></text><line class="sep" x1="231.5" y1="26.5" x2="494.5" y2="26.5"/><text class="d" x="234" y="37">Allow Contextual Spacing of Paragraphs in Tables</text><use href="#plus" x="503"/></g>
<g id="n-doNotSuppressIndentation" transform="translate(0,2858)"><rect class="sh" x="230.5" y="2.5" width="301" height="44"/><rect class="box" x="228.5" y="0.5" width="301" height="44"/><rect class="bd" x="233.5" y="6.5" width="21" height="11"/><text class="e" x="244" y="15.5">E</text><text class="t" x="260.7" y="15">doNotSuppressIndentation<tspan dx="2"> : CT_OnOff</tspan></text><line class="sep" x1="231.5" y1="26.5" x2="521.5" y2="26.5"/><text class="d" x="234" y="37">Do Not Ignore Floating Objects When Calculating Paragraph Indentation</text><use href="#plus" x="530"/></g>
<g id="n-doNotAutofitConstrainedTables" transform="translate(0,2910)"><rect class="sh" x="230.5" y="2.5" width="274" height="44"/><rect class="box" x="228.5" y="0.5" width="274" height="44"/><rect class="bd" x="233.5" y="6.5" width="21" height="11"/><text class="e" x="244" y="15.5">E</text><text class="t" x="260.7" y="15">doNotAutofitConstrainedTables<tspan dx="2"> : CT_OnOff</tspan></text><line class="sep" x1="231.5" y1="26.5" x2="494.5" y2="26.5"/><text class="d" x="234" y="37">Do Not AutoFit Tables To Fit Next To Wrapped Objects</text><use href="#plus" x="503"/></g>
<g id="n-autofitToFirstFixedWidthCell" transform="translate(0,2962)"><rect class="sh" x="230.5" y="2.5" width="294" height="44"/><rect class="box" x="228.5" y="0.5" width="294" height="44"/><rect class="bd" x="233.5" y="6.5" width="21" height="11"/><text class="e" x="244" y="15.5">E</text><text class="t" x="260.7" y="15">autofitToFirstFixedWidthCell<tspan dx="2"> : CT_OnOff</tspan></text><line class="sep" x1="231.5" y1="26.5" x2="514.5" y2="26.5"/><text class="d" x="234" y="37">Allow Table Columns To Exceed Preferred Widths of Constituent Cells</text><use href="#plus" x="523"/></g>
<g id="n-underlineTabInNumList" transform="translate(0,3014)"><rect class="sh" x="230.5" y="2.5" width="230" height="44"/><rect class="box" x="228.5" y="0.5" width="230" height="44"/><rect class="bd" x="233.5" y="6.5" width="21" height="11"/><text class="e" x="244" y="15.5">E</text><text class="t" x="260.7" y="15">underlineTabInNumList<tspan dx="2"> : CT_OnOff</tspan></text><line class="sep" x1="231.5" y1="26.5" x2="450.5" y2="26.5"/><text class="d" x="234" y="37">Underline Following Character Following Numbering</text><use href="#plus" x="459"/></g>
<g id="n-displayHangulFixedWidth" transform="translate(0,3066)"><rect class="sh" x="230.5" y="2.5" width="242" height="44"/><rect class="box" x="228.5" y="0.5" width="242" height="44"/><rect class="bd" x="233.5" y="6.5" width="21" height="11"/><text class="e" x="244" y="15.5">E</text><text class="t" x="260.7" y="15">displayHangulFixedWidth<tspan dx="2"> : CT_OnOff</tspan></text><line class="sep" x1="231.5" y1="26.5" x2="462.5" y2="26.5"/><text class="d" x="234" y="37">Always Use Fixed Width for Hangul Characters</text><use href="#plus" x="471"/></g>
<g id="n-splitPgBreakAndParaMark" transform="translate(0,3118)"><rect class="sh" x="230.5" y="2.5" width="245" height="44"/><rect class="box" x="228.5" y="0.5" width="245" height="44"/><rect class="bd" x="233.5" y="6.5" width="21" height="11"/><text class="e" x="244" y="15.5">E</text><text class="t" x="260.7" y="15">splitPgBreakAndParaMark<tspan dx="2"> : CT_OnOff</tspan></text><line class="sep" x1="231.5" y1="26.5" x2="465.5" y2="26.5"/><text class="d" x="234" y="37">Always Move Paragraph Mark to Page after a Page Break</text><use href="#plus" x="474"/></g>
<g id="n-doNotVertAlignCellWithSp" transform="translate(0,3170)"><rect class="sh" x="230.5" y="2.5" width="246" height="44"/><rect class="box" x="228.5" y="0.5" width="246" height="44"/><rect class="bd" x="233.5" y="6.5" width="21" height="11"/><text class="e" x="244" y="15.5">E</text><text class="t" x="260.7" y="15">doNotVertAlignCellWithSp<tspan dx="2"> : CT_OnOff</tspan></text><line class="sep" x1="231.5" y1="26.5" x2="466.5" y2="26.5"/><text class="d" x="234" y="37">Don't Vertically Align Cells Containing Floating Objects</text><use href="#plus" x="475"/></g>
<g id="n-doNotBreakConstrainedForcedTable" transform="translate(0,3222)"><rect class="sh" x="230.5" y="2.5" width="294" height="55"/><rect class="box" x="228.5" y="0.5" width="294" height="55"/><rect class="bd" x="233.5" y="6.5" width="21" height="11"/><text class="e" x="244" y="15.5">E</text><text class="t" x="260.7" y="15">doNotBreakConstrainedForcedTabl<tspan dx="2"> : CT_OnOff</tspan></text><text class="t" x="260.7" y="27.5">e</text><line class="sep" x1="231.5" y1="37.5" x2="514.5" y2="37.5"/><text class="d" x="234" y="48">Don't Break Table Rows Around Floating Tables</text><use href="#plus" x="523" y="6"/></g>
<g id="n-doNotVertAlignInTxbx" transform="translate(0,3285)"><rect class="sh" x="230.5" y="2.5" width="223" height="44"/><rect class="box" x="228.5" y="0.5" width="223" height="44"/><rect class="bd" x="233.5" y="6.5" width="21" height="11"/><text class="e" x="244" y="15.5">E</text><text class="t" x="260.7" y="15">doNotVertAlignInTxbx<tspan dx="2"> : CT_OnOff</tspan></text><line class="sep" x1="231.5" y1="26.5" x2="443.5" y2="26.5"/><text class="d" x="234" y="37">Ignore Vertical Alignment in Textboxes</text><use href="#plus" x="452"/></g>
<g id="n-useAnsiKerningPairs" transform="translate(0,3337)"><rect class="sh" x="230.5" y="2.5" width="218" height="44"/><rect class="box" x="228.5" y="0.5" width="218" height="44"/><rect class="bd" x="233.5" y="6.5" width="21" height="11"/><text class="e" x="244" y="15.5">E</text><text class="t" x="260.7" y="15">useAnsiKerningPairs<tspan dx="2"> : CT_OnOff</tspan></text><line class="sep" x1="231.5" y1="26.5" x2="438.5" y2="26.5"/><text class="d" x="234" y="37">Use ANSI Kerning Pairs from Fonts</text><use href="#plus" x="447"/></g>
<g id="n-cachedColBalance" transform="translate(0,3388)"><rect class="sh" x="230.5" y="2.5" width="242" height="44"/><rect class="box" x="228.5" y="0.5" width="242" height="44"/><rect class="bd" x="233.5" y="6.5" width="21" height="11"/><text class="e" x="244" y="15.5">E</text><text class="t" x="260.7" y="15">cachedColBalance<tspan dx="2"> : CT_OnOff</tspan></text><line class="sep" x1="231.5" y1="26.5" x2="462.5" y2="26.5"/><text class="d" x="234" y="37">Use Cached Paragraph Information for Column Balancing</text><use href="#plus" x="471"/></g>
</svg>
